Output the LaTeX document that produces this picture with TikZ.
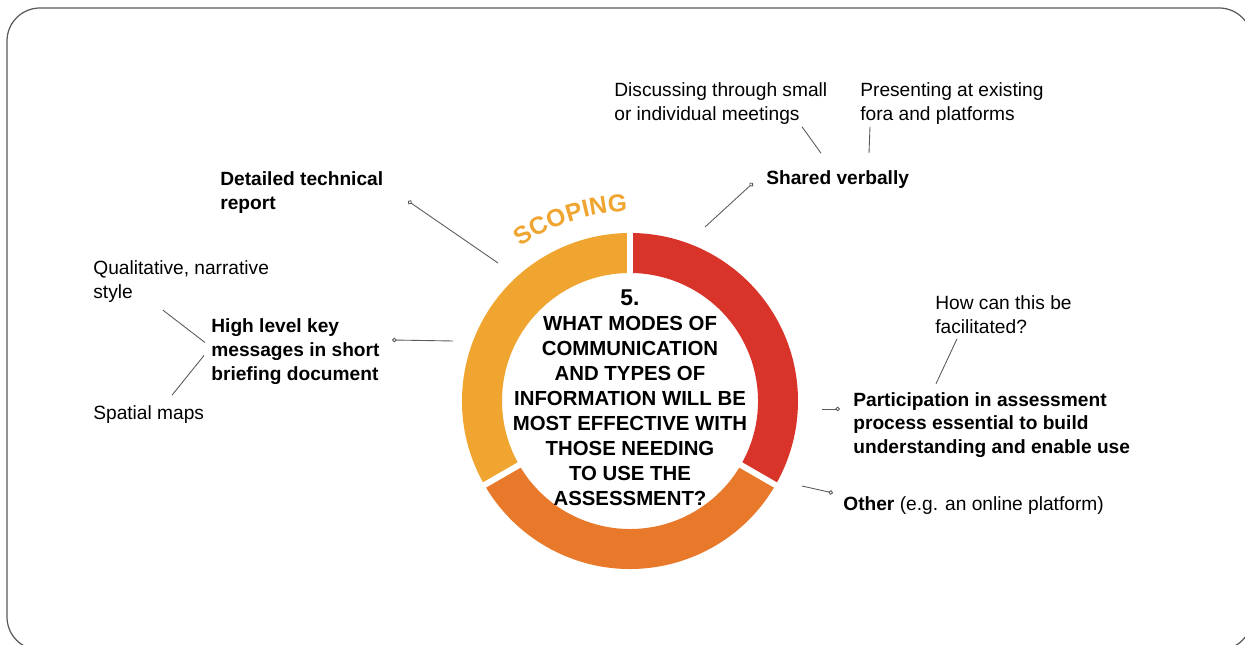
\documentclass[tikz,border=0pt]{standalone}
\usepackage{fontspec}
\setmainfont{Liberation Sans}
\usetikzlibrary{calc, arrows.meta, decorations.text}

\definecolor{scopeyellow}{RGB}{239,165,47}
\definecolor{scopered}{RGB}{216,52,42}
\definecolor{scopeorange}{RGB}{232,121,42}
\definecolor{leadgray}{RGB}{90,90,90}

\tikzset{
  label/.style = {anchor = west, align = left, inner sep = 0pt, font = \fontsize{10.9}{13.6}\selectfont},
  boldlabel/.style = {label, font = \fontsize{10.9}{13.6}\selectfont\bfseries},
  lead/.style = {draw = leadgray, line width = 0.5pt},
  pinned/.style = {lead, -{Circle[open, length = 2.6pt, width = 2.6pt]}}
}

\begin{document}
\begin{tikzpicture}[x = 0.02cm, y = 0.02cm]
    \useasboundingbox (0,0) rectangle (1245,645);
    \draw [gray!70!black, line width = 0.7pt, rounded corners = 0.66cm](7,-5)rectangle(1252,637);

    % ring
    \coordinate (c) at (630,244);
    \fill [scopeyellow]($(c)+(210:168)$) arc [start angle = 210, end angle = 90, radius = 168] -- ($(c)+(90:128)$) arc [start angle = 90, end angle = 210, radius = 128] -- cycle;
    \fill [scopered]($(c)+(90:168)$) arc [start angle = 90, end angle = -30, radius = 168] -- ($(c)+(-30:128)$) arc [start angle = -30, end angle = 90, radius = 128] -- cycle;
    \fill [scopeorange]($(c)+(-30:168)$) arc [start angle = -30, end angle = -150, radius = 168] -- ($(c)+(-150:128)$) arc [start angle = -150, end angle = -30, radius = 128] -- cycle;
    \foreach \a in {90, -30, 210}
        \draw [white, line width = 3.4pt]($(c)+(\a:120)$) -- ($(c)+(\a:176)$);

    \path [decorate, decoration = {text along path, text align = center,
        text = {|\fontsize{14}{15}\selectfont\bfseries\color{scopeyellow}|SCOPING}}]
        ($(c)+(150:189)$) arc [start angle = 150, end angle = 66, radius = 189];

    \node [align = center, inner sep = 0pt, font = \fontsize{11.6}{14.2}\selectfont\bfseries] (question) at (630,247)
        {{\fontsize{13}{14.2}\selectfont 5.}\\WHAT MODES OF\\COMMUNICATION\\AND TYPES OF\\INFORMATION WILL BE\\MOST EFFECTIVE WITH\\THOSE NEEDING\\TO USE THE\\ASSESSMENT?};

    % left side
    \node [boldlabel] (report) at (220,452.5) {Detailed technical\\report};
    \node [boldlabel] (briefing) at (211,293.5) {High level key\\messages in short\\briefing document};
    \node [label] (narrative) at (93,363) {Qualitative, narrative\\style};
    \node [label] (maps) at (93,230.5) {Spatial maps};

    % top
    \node [boldlabel] (verbal) at (766,465.5) {Shared verbally};
    \node [label] (meetings) at (614,541.5) {Discussing through small\\or individual meetings};
    \node [label] (fora) at (860,541.5) {Presenting at existing\\fora and platforms};

    % right side
    \node [boldlabel] (participation) at (853,220) {Participation in assessment\\process essential to build\\understanding and enable use};
    \node [label] (facilitate) at (935,330.5) {How can this be\\facilitated?};
    \node [label] (other) at (843,139.5) {\textbf{Other} (e.g. an online platform)};

    % connector ends
    \coordinate (report-pin) at (408,444);
    \coordinate (report-ring) at (498,382);
    \coordinate (briefing-pin) at (392,305);
    \coordinate (briefing-ring) at (453,304);
    \coordinate (verbal-pin) at (753,462);
    \coordinate (verbal-ring) at (705,418);
    \coordinate (participation-pin) at (840,236);
    \coordinate (participation-ring) at (822,236);
    \coordinate (other-pin) at (833,152);
    \coordinate (other-ring) at (802,159);

    \draw [pinned](report-ring)--(report-pin);
    \draw [pinned](briefing-ring)--(briefing-pin);
    \draw [pinned](verbal-ring)--(verbal-pin);
    \draw [pinned](participation-ring)--(participation-pin);
    \draw [pinned](other-ring)--(other-pin);

    \draw [lead](briefing.west)++(-6,9)--($(narrative.south west)+(70,-7)$);
    \draw [lead](briefing.west)++(-7,-4)--($(maps.north west)+(79,10)$);
    \draw [lead]($(verbal.north west)+(55,17)$)--($(meetings.south west)+(188,-2)$);
    \draw [lead]($(verbal.north west)+(103,17)$)--($(fora.south west)+(10,-2)$);
    \draw [lead]($(participation.north west)+(83,8)$)--($(facilitate.south west)+(22,-5)$);
\end{tikzpicture}
\end{document}
